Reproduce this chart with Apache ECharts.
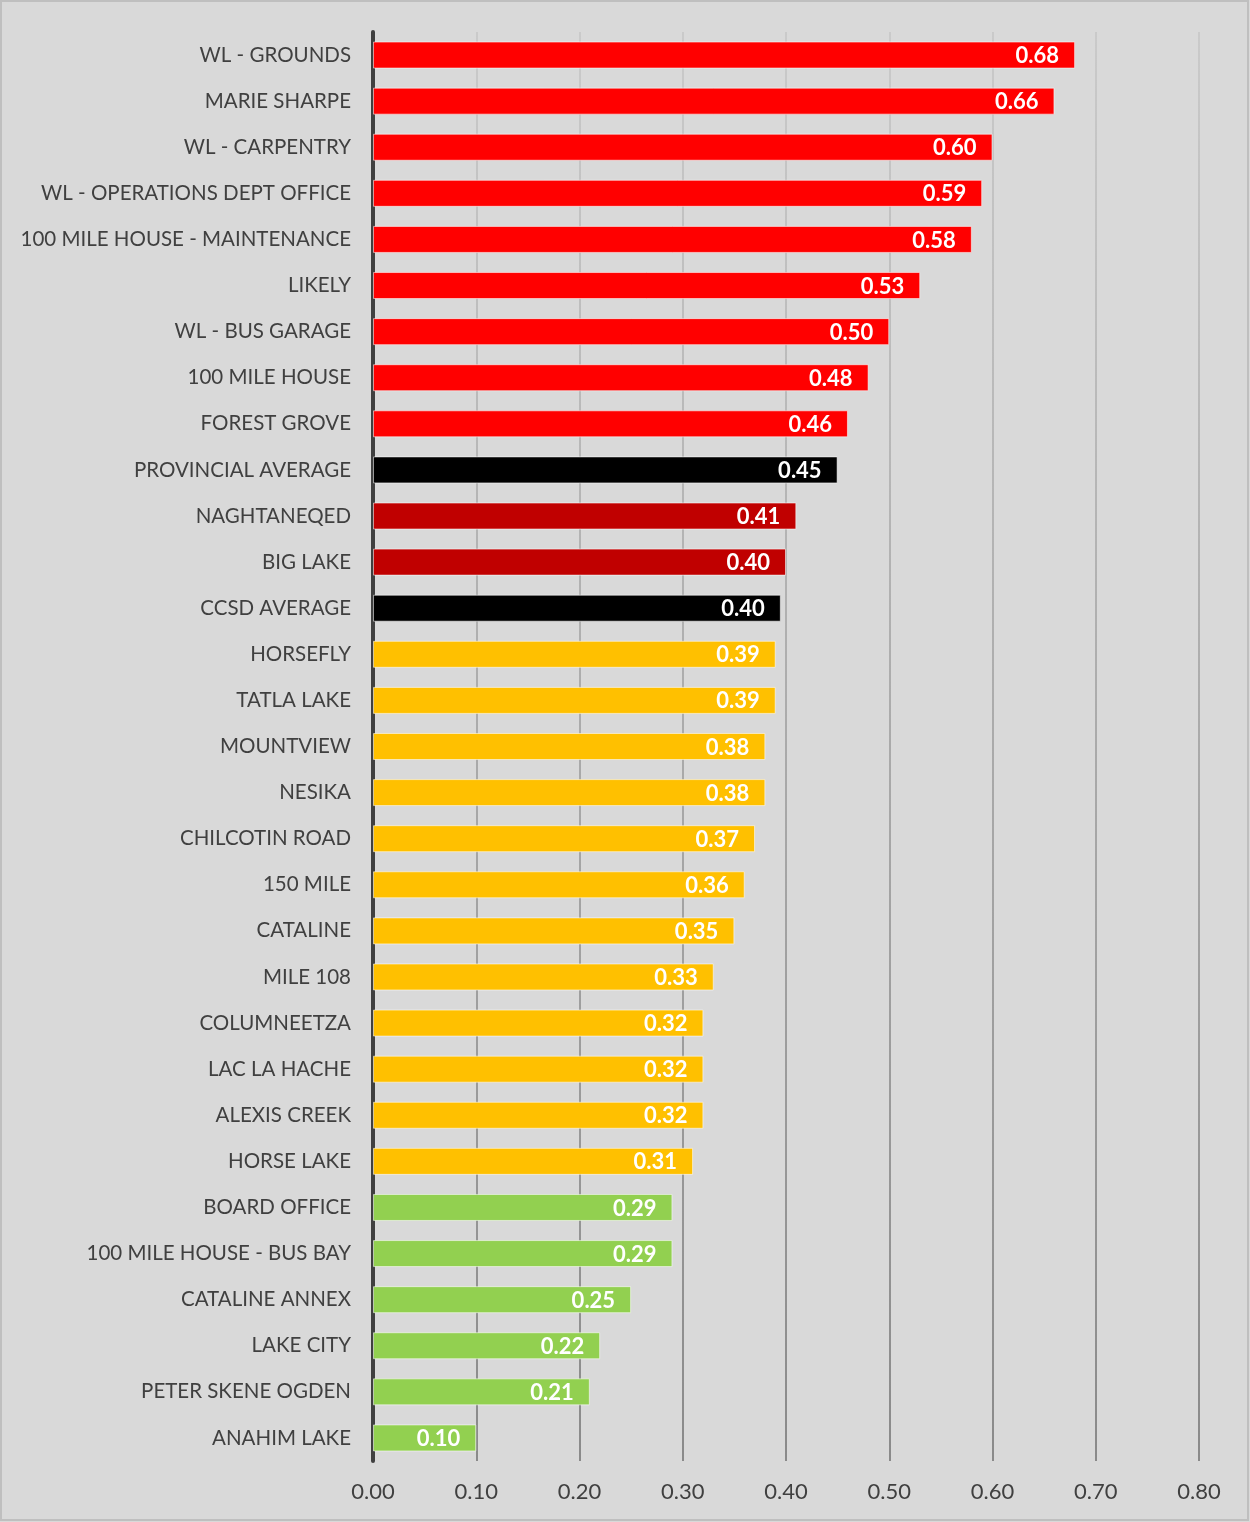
<!DOCTYPE html>
<html>
<head>
<meta charset="utf-8">
<script src="https://cdn.jsdelivr.net/npm/echarts@6/dist/echarts.min.js"></script>
<style>
  html, body { margin: 0; padding: 0; background: #d9d9d9; }
  #chart { width: 1250px; height: 1522px; }
</style>
</head>
<body>
<div id="chart"></div>
<script>
var categories = [
    'WL - GROUNDS', 'MARIE SHARPE', 'WL - CARPENTRY', 'WL - OPERATIONS DEPT OFFICE',
    '100 MILE HOUSE - MAINTENANCE', 'LIKELY', 'WL - BUS GARAGE', '100 MILE HOUSE',
    'FOREST GROVE', 'PROVINCIAL AVERAGE', 'NAGHTANEQED', 'BIG LAKE', 'CCSD AVERAGE',
    'HORSEFLY', 'TATLA LAKE', 'MOUNTVIEW', 'NESIKA', 'CHILCOTIN ROAD', '150 MILE',
    'CATALINE', 'MILE 108', 'COLUMNEETZA', 'LAC LA HACHE', 'ALEXIS CREEK', 'HORSE LAKE',
    'BOARD OFFICE', '100 MILE HOUSE - BUS BAY', 'CATALINE ANNEX', 'LAKE CITY',
    'PETER SKENE OGDEN', 'ANAHIM LAKE'
];

var values = [
    0.68, 0.66, 0.60, 0.59, 0.58, 0.53, 0.50, 0.48, 0.46, 0.45, 0.41, 0.40, 0.395,
    0.39, 0.39, 0.38, 0.38, 0.37, 0.36, 0.35, 0.33, 0.32, 0.32, 0.32, 0.31,
    0.29, 0.29, 0.25, 0.22, 0.21, 0.10
];

// band each site falls in
var groups = [
    'high', 'high', 'high', 'high', 'high', 'high', 'high', 'high', 'high',
    'average', 'elevated', 'elevated', 'average',
    'moderate', 'moderate', 'moderate', 'moderate', 'moderate', 'moderate',
    'moderate', 'moderate', 'moderate', 'moderate', 'moderate', 'moderate',
    'low', 'low', 'low', 'low', 'low', 'low'
];

var xTicks = [0, 0.1, 0.2, 0.3, 0.4, 0.5, 0.6, 0.7, 0.8];

var groupColors = {
    high: '#ff0000',
    elevated: '#c00000',
    average: '#000000',
    moderate: '#ffc000',
    low: '#92d050'
};

var font = 'Lato, "Open Sans", sans-serif';
var gridTop = 32, gridBottom = 61;

var chart = echarts.init(document.getElementById('chart'), null, { renderer: 'canvas' });

var barData = values.map(function(v, i) {
    return {
        value: v,
        itemStyle: { color: groupColors[groups[i]] }
    };
});

chart.setOption({
    backgroundColor: '#d9d9d9',
    animation: false,
    graphic: [{
        type: 'rect',
        shape: { x: 1, y: 1, width: 1247, height: 1519 },
        style: { fill: 'none', stroke: '#bfbfbf', lineWidth: 2 },
        silent: true
    }],
    grid: {
        left: 373,
        right: 51,
        top: gridTop,
        bottom: gridBottom,
        containLabel: false
    },
    xAxis: {
        type: 'value',
        min: xTicks[0],
        max: xTicks[xTicks.length - 1],
        interval: 0.1,
        axisLine: { show: false },
        axisTick: { show: false },
        axisLabel: {
            color: '#404040',
            fontFamily: font,
            fontSize: 22,
            margin: 20,
            formatter: function(v) { return v.toFixed(2); }
        },
        splitLine: {
            show: true,
            lineStyle: {
                width: 2,
                color: new echarts.graphic.LinearGradient(0, gridTop, 0, 1522 - gridBottom, [
                    { offset: 0, color: '#cacaca' },
                    { offset: 1, color: '#8a8a8a' }
                ], true)
            }
        }
    },
    yAxis: {
        type: 'category',
        data: categories,
        inverse: true,
        axisLine: { show: true, lineStyle: { color: '#404040', width: 4 } },
        axisTick: { show: false },
        axisLabel: {
            color: '#404040',
            fontFamily: font,
            fontSize: 20.5,
            margin: 22
        },
        splitLine: { show: false }
    },
    series: [{
        type: 'bar',
        data: barData,
        barWidth: 27,
        itemStyle: {
            borderColor: 'rgba(255,255,255,0.55)',
            borderWidth: 1
        },
        label: {
            show: true,
            position: 'insideRight',
            distance: 16,
            offset: [0, 1],
            color: '#ffffff',
            fontFamily: font,
            fontWeight: 'bold',
            fontSize: 22,
            formatter: function(p) { return p.value.toFixed(2); }
        },
        z: 3
    }]
});
</script>
</body>
</html>
